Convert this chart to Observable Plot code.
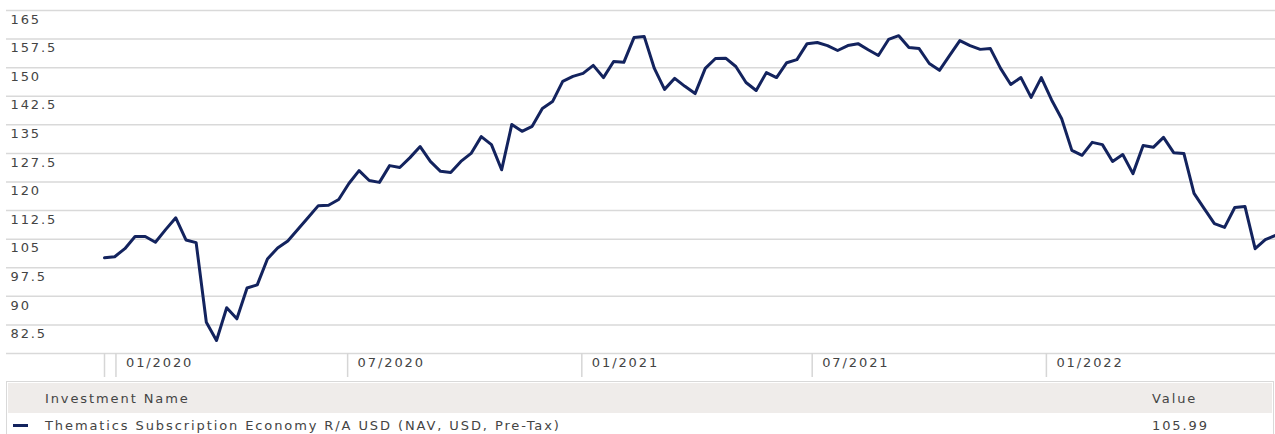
<!DOCTYPE html>
<html>
<head>
<meta charset="utf-8">
<script src="https://cdn.jsdelivr.net/npm/d3@7"></script>
<script src="https://cdn.jsdelivr.net/npm/@observablehq/plot@0.6"></script>
<style>
  html, body { margin: 0; padding: 0; background: #fff; width: 1275px; height: 434px; overflow: hidden; }
  body { position: relative; font-family: "DejaVu Sans", Verdana, sans-serif; color: #444; }
  #chart { position: absolute; left: 0; top: 0; }
  .abs { position: absolute; }
  .lbl { font-size: 13px; letter-spacing: 1.9px; line-height: 16px; white-space: nowrap; color: #444; }
</style>
</head>
<body>
<div id="chart"></div>
<div class="abs" style="left:6px; top:381px; width:1266px; height:60px; border:1px solid #d9d9d9;"></div>
<div class="abs" style="left:8px; top:383px; width:1264px; height:30px; background:#efecea;"></div>
<div class="abs lbl" id="hdrName" style="left:45px; top:391px;"></div>
<div class="abs lbl" id="hdrValue" style="left:1152px; top:391px;"></div>
<div class="abs" id="marker" style="left:13px; top:424px; width:15px; height:3px;"></div>
<div class="abs lbl" id="rowName" style="left:45px; top:418px;"></div>
<div class="abs lbl" id="rowValue" style="left:1152px; top:418px;"></div>
<script>
// ---- data ----
const seriesName = "Thematics Subscription Economy R/A USD (NAV, USD, Pre-Tax)";
const lastValue = "105.99";
const lineColor = "#13235e";
const startDate = "2019-12-23";   // first observation
const stepDays = 8;               // spacing between observations
const values = [
  100.1, 100.4, 102.5, 105.7, 105.7, 104.2, 107.5, 110.6, 104.8, 104.1,
  83.2, 78.4, 87.0, 84.1, 92.2, 93.0, 99.8, 102.7, 104.5, 107.6,
  110.7, 113.8, 113.9, 115.4, 119.6, 123.0, 120.4, 119.9, 124.3, 123.8,
  126.4, 129.3, 125.4, 122.8, 122.5, 125.4, 127.5, 131.9, 129.8, 123.2,
  135.1, 133.3, 134.6, 139.3, 141.1, 146.4, 147.7, 148.5, 150.6, 147.4,
  151.6, 151.4, 157.9, 158.2, 149.8, 144.3, 147.2, 145.1, 143.2, 149.8,
  152.4, 152.5, 150.3, 146.1, 144.0, 148.7, 147.4, 151.3, 152.1, 156.3,
  156.6, 155.8, 154.5, 155.8, 156.3, 154.7, 153.2, 157.4, 158.4, 155.3,
  155.0, 151.1, 149.3, 153.2, 157.1, 155.8, 154.8, 155.0, 149.8, 145.6,
  147.4, 142.2, 147.4, 141.6, 136.6, 128.3, 127.0, 130.4, 129.8, 125.4,
  127.2, 122.2, 129.6, 129.1, 131.7, 127.7, 127.5, 117.0, 113.0, 109.1,
  108.1, 113.3, 113.6, 102.5, 104.9, 105.99
];
const xTickDates = ["2020-01-01", "2020-07-01", "2021-01-01", "2021-07-01", "2022-01-01"];
const xTickLabels = ["01/2020", "07/2020", "01/2021", "07/2021", "01/2022"];
const yTicks = [82.5, 90, 97.5, 105, 112.5, 120, 127.5, 135, 142.5, 150, 157.5, 165];
const yGrid = [75, 82.5, 90, 97.5, 105, 112.5, 120, 127.5, 135, 142.5, 150, 157.5, 165];
const yDomain = [75, 165];

// ---- build table ----
const start = new Date(startDate + "T00:00:00Z");
const data = values.map((v, i) => ({date: d3.utcDay.offset(start, i * stepDays), value: v}));
const end = data[data.length - 1].date;
const tickDates = xTickDates.map(s => new Date(s + "T00:00:00Z"));

const chart = Plot.plot({
  width: 1275,
  height: 380,
  marginLeft: 6,
  marginRight: 0,
  marginTop: 10,
  marginBottom: 27,
  style: {fontFamily: "DejaVu Sans, Verdana, sans-serif", fontSize: "13px", letterSpacing: "1.9px", color: "#444", background: "white", overflow: "visible"},
  x: {type: "utc", domain: [start, end], range: [104, 1275]},
  y: {domain: yDomain, axis: null},
  marks: [
    Plot.ruleY(yGrid, {stroke: "#d9d9d9", strokeWidth: 1.5}),
    Plot.axisX({ticks: [start, ...tickDates], tickSize: 24, tickFormat: () => "", stroke: "#d6d6d6", strokeWidth: 1.5, strokeOpacity: 1}),
    Plot.text(tickDates, {x: d => d, text: (d, i) => xTickLabels[i], frameAnchor: "bottom", dy: 13, dx: 10, textAnchor: "start", fill: "#444"}),
    Plot.text(yTicks, {y: d => d, text: d => String(d), frameAnchor: "left", dx: 4, dy: 9, textAnchor: "start", fill: "#444"}),
    Plot.line(data, {x: "date", y: "value", stroke: lineColor, strokeWidth: 3, strokeLinejoin: "round"})
  ]
});
document.getElementById("chart").appendChild(chart);

document.getElementById("hdrName").textContent = "Investment Name";
document.getElementById("hdrValue").textContent = "Value";
document.getElementById("rowName").textContent = seriesName;
document.getElementById("rowValue").textContent = lastValue;
document.getElementById("marker").style.background = lineColor;
</script>
</body>
</html>
